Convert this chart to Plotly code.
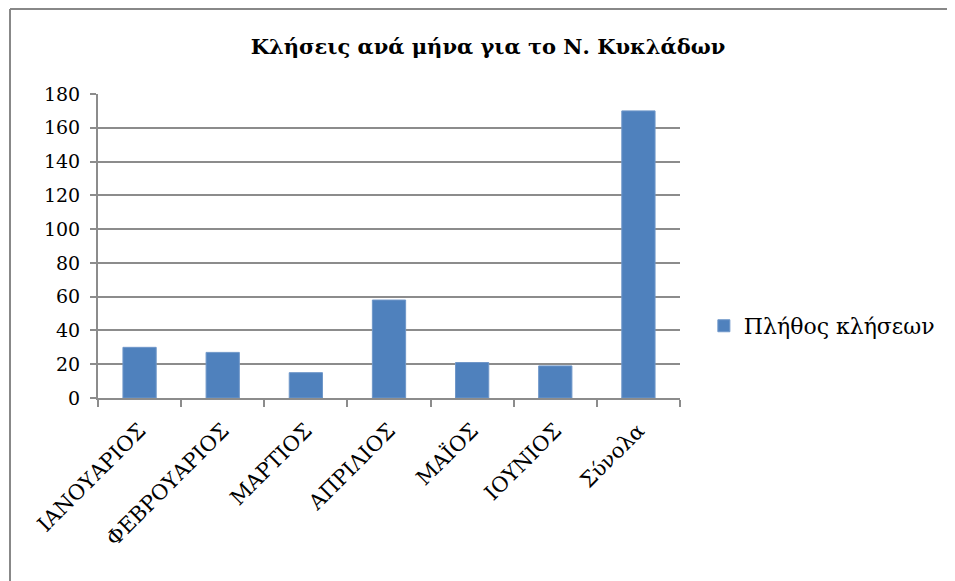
import plotly.graph_objects as go

categories = ["ΙΑΝΟΥΑΡΙΟΣ", "ΦΕΒΡΟΥΑΡΙΟΣ", "ΜΑΡΤΙΟΣ", "ΑΠΡΙΛΙΟΣ", "ΜΑΪΟΣ", "ΙΟΥΝΙΟΣ", "Σύνολα"]
calls = [30, 27, 15, 58, 21, 19, 170]
series_name = "Πλήθος κλήσεων"
title_text = "Κλήσεις ανά μήνα για το Ν. Κυκλάδων"
y_ticks = [0, 20, 40, 60, 80, 100, 120, 140, 160, 180]

FONT = "DejaVu Serif"
GRID = "#8c8c8c"

W, H = 947, 573
L, T, PW, PH = 90, 86, 582, 304

fig = go.Figure()
fig.add_trace(go.Bar(
    x=categories, y=calls, name=series_name,
    marker=dict(color="#4f81bd", line=dict(color="#6f97c9", width=1)),
    showlegend=True,
))

fig.update_layout(
    width=W, height=H, autosize=False,
    paper_bgcolor="white", plot_bgcolor="white",
    margin=dict(l=L, r=W - L - PW, t=T, b=H - T - PH, autoexpand=False),
    bargap=0.6,
    font=dict(family=FONT, color="black", size=19),
    title=dict(text="<b>" + title_text + "</b>", x=480 / W, xanchor="center",
               y=1 - 39 / H, yanchor="middle", font=dict(family=FONT, size=21, color="black")),
    legend=dict(x=1.041, y=0.237, xanchor="left", yanchor="middle",
                font=dict(family=FONT, size=22, color="black"),
                bgcolor="rgba(0,0,0,0)"),
    xaxis=dict(
        type="category", showgrid=False, showline=True, linecolor=GRID, linewidth=2,
        ticks="outside", tickson="boundaries", ticklen=7, tickcolor=GRID, tickwidth=2,
        tickangle=-45, tickfont=dict(family=FONT, size=21, color="black"),
        ticklabelstandoff=10, automargin=False,
    ),
    yaxis=dict(
        range=[0, 180], tickvals=y_ticks, showgrid=True, gridcolor=GRID, gridwidth=2,
        showline=True, linecolor=GRID, linewidth=2, zeroline=False,
        ticks="outside", ticklen=6, tickcolor=GRID, tickwidth=2,
        tickfont=dict(family=FONT, size=19, color="black"),
        ticklabelstandoff=6, automargin=False,
    ),
    shapes=[
        dict(type="line", xref="paper", yref="paper",
             x0=-0.1512, x1=1.6, y0=1 + (T - 1) / PH - 1 + 1 - 0.0, y1=1 + (T - 1) / PH - 1 + 1 - 0.0,
             line=dict(color="#888888", width=2)) if False else
        dict(type="line", xref="paper", yref="paper",
             x0=-0.1512, x1=1.6, y0=1.2796, y1=1.2796,
             line=dict(color="#888888", width=2)),
        dict(type="line", xref="paper", yref="paper",
             x0=-0.1512, x1=-0.1512, y0=-0.8, y1=1.2796,
             line=dict(color="#888888", width=2)),
    ],
)

fig.write_html("out.html")
